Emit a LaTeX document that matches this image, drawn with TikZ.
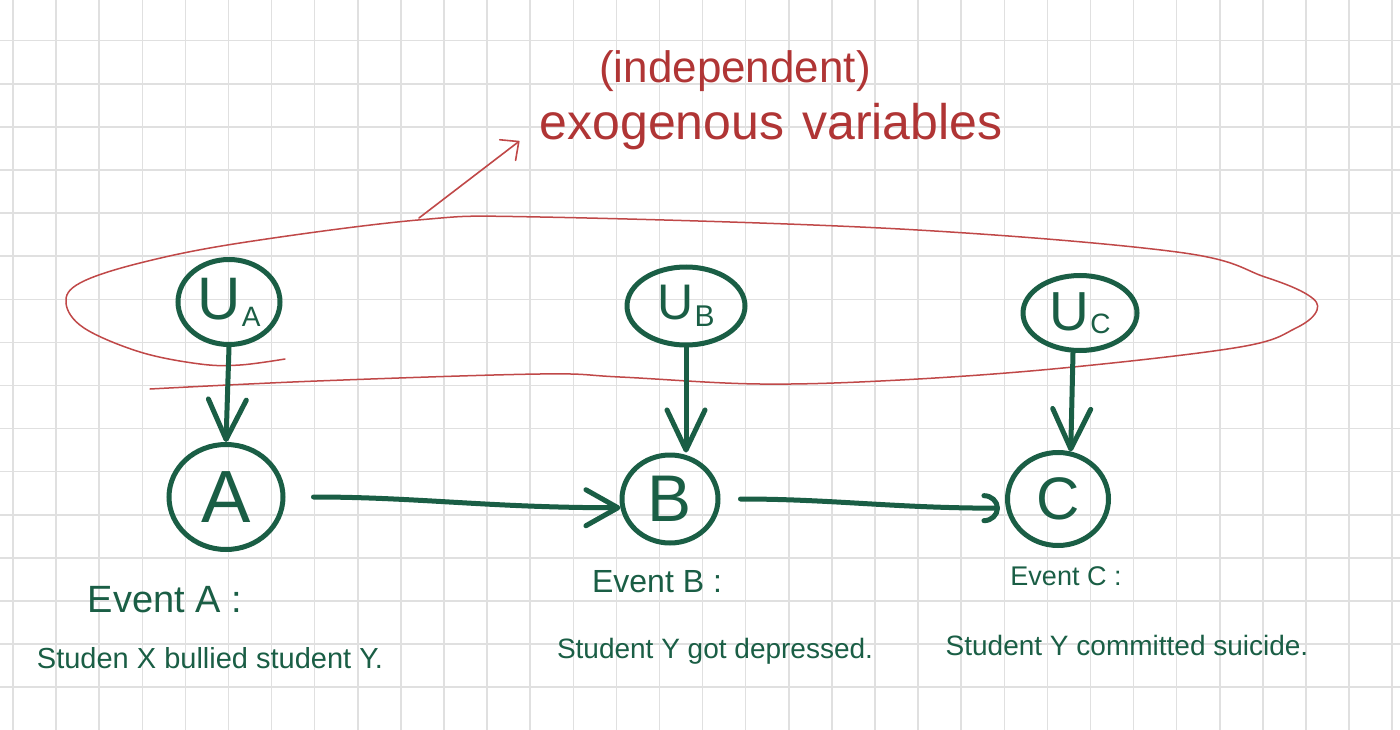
\documentclass[tikz,border=0pt]{standalone}
\usepackage{fontspec}
\setmainfont{Liberation Sans}
\usetikzlibrary{arrows.meta,shapes.geometric,calc}
\definecolor{ink}{HTML}{1A5E45}
\definecolor{redink}{HTML}{B03535}
\definecolor{redline}{HTML}{C04848}
\definecolor{gridc}{HTML}{E0E0E0}
\tikzset{
  gline/.style={draw=gridc, line width=1.5pt},
  gnode/.style={ellipse, draw=ink, line width=5pt, inner sep=0pt, text=ink},
  garrow/.style={draw=ink, line width=5pt, line cap=round,
    -{Straight Barb[round,length=40pt,width=38pt]}},
  harrow/.style={draw=ink, line width=5pt, line cap=round,
    -{Straight Barb[round,length=32pt,width=36pt]}},
  carrow/.style={draw=ink, line width=5pt, line cap=round,
    -{Arc Barb[round,length=16pt,width=30pt]}},
  glabel/.style={text=ink, anchor=base, inner sep=0pt},
  rlabel/.style={text=redink, anchor=base, inner sep=0pt},
}
\newcommand{\fs}[1]{\fontsize{#1}{#1}\selectfont}
\begin{document}
\begin{tikzpicture}[x=1pt,y=-1pt]
\useasboundingbox (0,0) rectangle (1400,730);
\fill[white] (0,0) rectangle (1400,730);
% grid
\foreach \i in {0,...,32} \draw[gline] ({13+43.1*\i},0) -- ({13+43.1*\i},730);
\foreach \j in {1,...,16} \draw[gline] (0,{-2.4+43.1*\j}) -- (1400,{-2.4+43.1*\j});

% red enclosing loop
\draw[redline, line width=1.5pt, line cap=round] plot[smooth, tension=0.6] coordinates {
 (285,359) (240,365) (200,364) (140,352) (84,328) (66,303) (80,283) (140,263)
 (240,243) (418,220) (540,217) (900,229) (1177,252) (1265,277) (1308,295)
 (1317,310) (1296,328) (1240,347) (1063,368) (900,380) (760,384) (620,377) (540,374) (317,381) (150,389)};
\coordinate (ptr) at (419,218);

% red texts
\node[rlabel] (indep) at (735,83) {\fs{44}(independent)};
\node[rlabel] (exo) at (771,140) {\fs{50}exogenous\hspace{18pt}variables};
\draw[redline, line width=1.6pt, line cap=round, -{Straight Barb[round,length=14pt,width=26pt]}]
  (ptr) -- ($(exo.west)+(-20,14)$);

% nodes
\node[gnode, minimum width=102pt, minimum height=85pt] (ua) at (229,302)
  {\fs{60}U\hspace{1pt}\raisebox{-7pt}{\fs{28}A}};
\node[gnode, minimum width=114pt, minimum height=105pt] (a) at (226,497) {\fs{74}A};
\node[gnode, minimum width=118pt, minimum height=78pt] (ub) at (686,306)
  {\fs{50}U\hspace{1pt}\raisebox{-7pt}{\fs{30}B}};
\node[gnode, minimum width=96pt, minimum height=88pt] (b) at (670,499) {\fs{66}B};
\node[gnode, minimum width=114pt, minimum height=75pt] (uc) at (1080,313)
  {\fs{55}U\hspace{1pt}\raisebox{-3pt}{\fs{28}C}};
\node[gnode, minimum width=101pt, minimum height=93pt] (c) at (1058,499) {\fs{60}C};

% connectors
\draw[garrow] (ua.south) -- (a.north);
\draw[garrow] (ub.south) -- (ub.south |- b.north);
\draw[garrow] (uc.260) -- (c.75);
\draw[harrow, shorten <=28pt] (a.east) to[out=0,in=180] (b.190);
\draw[carrow, shorten <=20pt, shorten >=6pt] (b.east) to[out=0,in=180] (c.190);

% labels
\node[glabel] (evA) at (165,612) {\fs{38}Event A :};
\node[glabel] (stA) at (210,668) {\fs{29}Studen X bullied student Y.};
\node[glabel] (evB) at (657,592) {\fs{32}Event B :};
\node[glabel] (stB) at (715,658) {\fs{28}Student Y got depressed.};
\node[glabel] (evC) at (1066,585) {\fs{27}Event C :};
\node[glabel] (stC) at (1127,655) {\fs{28}Student Y committed suicide.};
\end{tikzpicture}
\end{document}
